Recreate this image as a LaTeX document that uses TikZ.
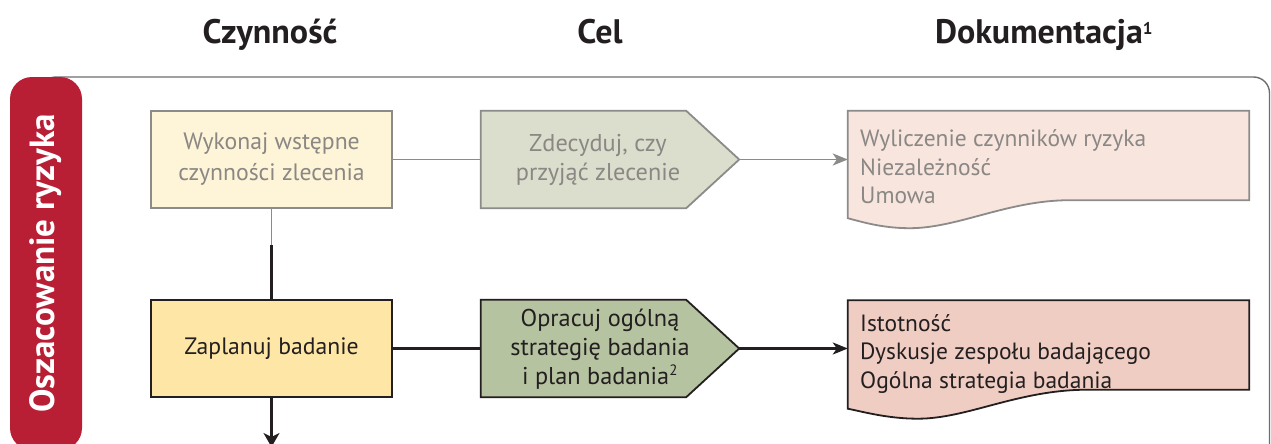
\documentclass[tikz,border=0pt]{standalone}
\usepackage{fontspec}
\setmainfont{PT Sans}
\usetikzlibrary{arrows.meta,backgrounds,calc}

\definecolor{pillred}{HTML}{B81F35}
\definecolor{frameline}{HTML}{6E6E6E}
\definecolor{fadeline}{HTML}{8C8B89}
\definecolor{fadetext}{HTML}{8A8784}
\definecolor{inkdark}{HTML}{231F20}
\definecolor{yellowA}{HTML}{FEF4D7}
\definecolor{yellowB}{HTML}{FEE7A6}
\definecolor{greenA}{HTML}{DBDECC}
\definecolor{greenB}{HTML}{B6C3A0}
\definecolor{pinkA}{HTML}{F7E5DE}
\definecolor{pinkB}{HTML}{F0CDC3}

\tikzset{
  header/.style={font=\fontsize{34}{38}\selectfont\bfseries, text=inkdark, inner sep=0pt},
  stepbox/.style={rectangle, minimum width=241pt, minimum height=97pt, inner sep=0pt,
    line width=1.8pt, align=center, font=\fontsize{23.7}{31}\selectfont},
  chevbody/.style={rectangle, minimum width=205pt, minimum height=97pt, inner sep=0pt},
  chevtext/.style={align=center, inner sep=0pt, font=\fontsize{24.3}{29}\selectfont},
  docbody/.style={rectangle, minimum width=401pt, minimum height=89pt, inner sep=0pt},
  doctext/.style={align=left, inner sep=0pt, font=\fontsize{23.5}{28.5}\selectfont},
  faded/.style={draw=fadeline, text=fadetext},
  strong/.style={draw=inkdark, text=inkdark},
  fadeconn/.style={draw=fadeline, line width=1.8pt},
  conn/.style={draw=inkdark, line width=2.2pt},
  tipH/.style={-{Stealth[length=15pt,width=12pt,inset=4pt]}},
  tipV/.style={-{Stealth[length=14pt,width=16pt,inset=4pt]}},
  outline/.style={line width=1.8pt, line join=miter},
}

\begin{document}
\begin{tikzpicture}[x=1pt,y=-1pt]
\useasboundingbox (0,0) rectangle (1271,444);

% column headings
\node[header, anchor=base] (hA) at (270,44) {Czynność};
\node[header, anchor=base] (hB) at (600,44) {Cel};
\node[header, anchor=base] (hC) at (1044,44) {Dokumentacja\textsuperscript{\fontsize{17}{17}\selectfont 1}};

% phase frame and side tab
\draw[frameline, line width=1.4pt, rounded corners=16pt] (40,77) rectangle (1269.5,520);
\node[fill=pillred, rounded corners=22pt, rotate=90, minimum width=373pt, minimum height=72pt,
      inner sep=0pt, text=white, font=\fontsize{35}{35}\selectfont\bfseries] (pill) at (46,263.5)
      {Oszacowanie ryzyka};

% row 1
\node[stepbox, faded, fill=yellowA] (b1) at (271.5,159.5) {Wykonaj wstępne\\czynności zlecenia};
\node[chevbody] (cb1) at (583.5,159.5) {};
\coordinate (c1tip) at ($(cb1.east)+(53,0)$);
\node[chevtext, text=fadetext] (ct1) at (598,160) {Zdecyduj, czy\\przyjąć zlecenie};
\node[docbody] (d1) at (1048.5,155.5) {};
\node[doctext, text=fadetext, anchor=west] (dt1) at (860,167) {Wyliczenie czynników ryzyka\\Niezależność\\Umowa};

% row 2
\node[stepbox, strong, fill=yellowB] (b2) at (271.5,348.5) {Zaplanuj badanie};
\node[chevbody] (cb2) at (583.5,348.5) {};
\coordinate (c2tip) at ($(cb2.east)+(53,0)$);
\node[chevtext, text=inkdark] (ct2) at (600,349) {Opracuj ogólną\\strategię badania\\i plan badania\textsuperscript{\fontsize{15}{15}\selectfont 2}};
\node[docbody] (d2) at (1048.5,345) {};
\node[doctext, text=inkdark, anchor=west] (dt2) at (860,354) {Istotność\\Dyskusje zespołu badającego\\Ogólna strategia badania};

\begin{scope}[on background layer]
  \fill[white] (0,0) rectangle (1271,444);
  % chevron outlines
  \filldraw[faded, fill=greenA, outline]
    (cb1.north west) -- (cb1.north east) -- (c1tip) -- (cb1.south east) -- (cb1.south west) -- cycle;
  \filldraw[strong, fill=greenB, outline]
    (cb2.north west) -- (cb2.north east) -- (c2tip) -- (cb2.south east) -- (cb2.south west) -- cycle;
  % document outlines with wavy lower edge
  \filldraw[faded, fill=pinkA, outline]
    (d1.north west) -- (d1.north east) -- (d1.south east) -- ($(d1.south west)+(222,0)$)
    .. controls ($(d1.south west)+(160,0)$) and ($(d1.south west)+(110,28)$) .. ($(d1.south west)+(62,28)$)
    .. controls ($(d1.south west)+(35,28)$) and ($(d1.south west)+(15,22)$) .. ($(d1.south west)+(0,18)$)
    -- cycle;
  \filldraw[strong, fill=pinkB, outline]
    (d2.north west) -- (d2.north east) -- (d2.south east) -- ($(d2.south west)+(240,0)$)
    .. controls ($(d2.south west)+(170,0)$) and ($(d2.south west)+(120,29)$) .. ($(d2.south west)+(70,29)$)
    .. controls ($(d2.south west)+(40,29)$) and ($(d2.south west)+(15,22)$) .. ($(d2.south west)+(0,19)$)
    -- cycle;
\end{scope}

% connectors
\coordinate (mid) at (271.5,245);
\coordinate (down) at (271.5,447);
\draw[fadeconn] (b1.east) -- (cb1.west);
\draw[fadeconn, tipH] (c1tip) -- (c1tip -| d1.west);
\draw[fadeconn] (b1.south) -- (mid);
\draw[conn] (mid) -- (b2.north);
\draw[conn] (b2.east) -- (cb2.west);
\draw[conn, tipH] (c2tip) -- (c2tip -| d2.west);
\draw[conn, tipV] (b2.south) -- (down);
\end{tikzpicture}
\end{document}
